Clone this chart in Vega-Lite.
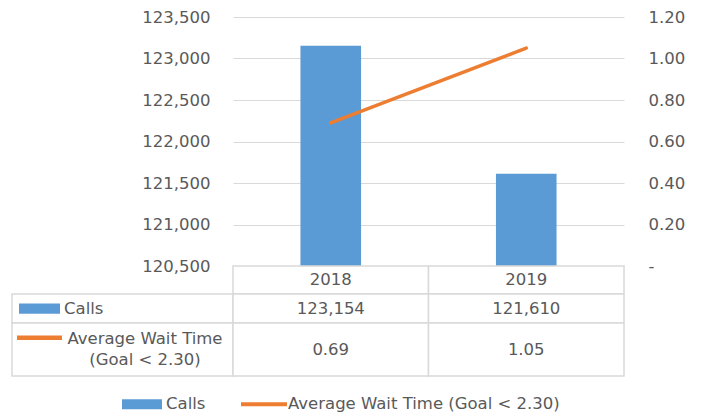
{
  "$schema": "https://vega.github.io/schema/vega-lite/v6.json",
  "padding": {"left": 11, "top": 9, "right": 0, "bottom": 0},
  "bounds": "flush",
  "spacing": 0,
  "columns": 2,
  "datasets": {
    "main": [
      {"year": "2018", "calls": 123154, "wait": 0.69},
      {"year": "2019", "calls": 121610, "wait": 1.05}
    ],
    "series": [
      {"series": "Calls"},
      {"series": "Average Wait Time (Goal < 2.30)"}
    ]
  },
  "config": {
    "view": {"stroke": null},
    "font": "DejaVu Sans",
    "text": {"fontSize": 16.5, "color": "#595959"}
  },
  "concat": [
    {
      "width": 221, "height": 249,
      "data": {"values": []},
      "mark": "text",
      "encoding": {}
    },
    {
      "width": 391, "height": 249,
      "layer": [
        {
          "data": {"name": "main"},
          "mark": {"type": "bar", "color": "#5b9bd5", "width": {"band": 0.31}},
          "encoding": {
            "x": {"field": "year", "type": "nominal", "axis": null, "scale": {"paddingInner": 0, "paddingOuter": 0}},
            "y": {
              "field": "calls", "type": "quantitative",
              "scale": {"domain": [120500, 123500], "zero": false, "nice": false},
              "axis": {
                "orient": "left", "title": null,
                "values": [120500, 121000, 121500, 122000, 122500, 123000, 123500],
                "format": ",d", "grid": true, "gridColor": "#d9d9d9", "gridWidth": 1,
                "domain": false, "ticks": false, "labelPadding": 23,
                "labelFontSize": 16.5, "labelColor": "#595959", "labelFont": "DejaVu Sans"
              }
            },
            "y2": {"datum": 120500}
          }
        },
        {
          "data": {"name": "main"},
          "mark": {"type": "line", "color": "#ed7d31", "strokeWidth": 3.5, "strokeCap": "round"},
          "encoding": {
            "x": {"field": "year", "type": "nominal", "axis": null, "scale": {"paddingInner": 0, "paddingOuter": 0}},
            "y": {
              "field": "wait", "type": "quantitative",
              "scale": {"domain": [0, 1.2], "nice": false},
              "axis": {
                "orient": "right", "title": null,
                "values": [0, 0.2, 0.4, 0.6, 0.8, 1.0, 1.2],
                "labelExpr": "datum.value == 0 ? ' -' : format(datum.value, '.2f')",
                "grid": false, "domain": false, "ticks": false, "labelPadding": 24,
                "labelFontSize": 16.5, "labelColor": "#595959", "labelFont": "DejaVu Sans"
              }
            }
          }
        },
        {
          "data": {"name": "series"},
          "mark": {"type": "point", "filled": true, "opacity": 0},
          "encoding": {
            "color": {
              "field": "series", "type": "nominal",
              "scale": {"domain": ["Calls", "Average Wait Time (Goal < 2.30)"], "range": ["#5b9bd5", "#ed7d31"]},
              "legend": {
                "orient": "none", "legendX": 110, "legendY": 367, "direction": "horizontal",
                "title": null, "labelFontSize": 16.5, "labelColor": "#595959", "labelFont": "DejaVu Sans",
                "symbolSize": 1600, "symbolOpacity": 1, "symbolStrokeWidth": 0,
                "columnPadding": 35, "labelOffset": 4, "padding": 0, "labelLimit": 400
              }
            },
            "shape": {
              "field": "series", "type": "nominal",
              "scale": {"domain": ["Calls", "Average Wait Time (Goal < 2.30)"], "range": ["M-1,-0.25H1V0.25H-1Z", "M-1.15,-0.1H1.15V0.1H-1.15Z"]},
              "legend": {
                "orient": "none", "legendX": 110, "legendY": 367, "direction": "horizontal",
                "title": null, "labelFontSize": 16.5, "labelColor": "#595959", "labelFont": "DejaVu Sans",
                "symbolSize": 1600, "symbolOpacity": 1, "symbolStrokeWidth": 0,
                "columnPadding": 35, "labelOffset": 4, "padding": 0, "labelLimit": 400
              }
            }
          }
        }
      ],
      "resolve": {"scale": {"y": "independent"}}
    },
    {
      "width": 221, "height": 28,
      "data": {"values": []},
      "mark": "text",
      "encoding": {}
    },
    {
      "width": 391, "height": 28,
      "data": {"name": "main"},
      "encoding": {"x": {"field": "year", "type": "nominal", "axis": null, "scale": {"paddingInner": 0, "paddingOuter": 0}}},
      "layer": [
        {"mark": {"type": "rect", "fill": "white", "stroke": "#d9d9d9", "strokeWidth": 1.5}},
        {"mark": {"type": "text"}, "encoding": {"text": {"field": "year", "type": "nominal"}}}
      ]
    },
    {
      "width": 221, "height": 29,
      "data": {"values": [{"series": "Calls"}]},
      "layer": [
        {"mark": {"type": "rect", "fill": "white", "stroke": "#d9d9d9", "strokeWidth": 1.5}, "encoding": {}},
        {"mark": {"type": "point", "shape": "M-1,-0.25H1V0.25H-1Z", "size": 1681, "filled": true, "color": "#5b9bd5", "opacity": 1, "xOffset": -83}, "encoding": {}},
        {"mark": {"type": "text", "align": "left", "dx": -58.5}, "encoding": {"text": {"field": "series", "type": "nominal"}}}
      ]
    },
    {
      "width": 391, "height": 29,
      "data": {"name": "main"},
      "encoding": {"x": {"field": "year", "type": "nominal", "axis": null, "scale": {"paddingInner": 0, "paddingOuter": 0}}},
      "layer": [
        {"mark": {"type": "rect", "fill": "white", "stroke": "#d9d9d9", "strokeWidth": 1.5}},
        {"mark": {"type": "text"}, "encoding": {"text": {"field": "calls", "type": "quantitative", "format": ",d"}}}
      ]
    },
    {
      "width": 221, "height": 53,
      "data": {"values": [{"series": "Average Wait Time\n(Goal < 2.30)"}]},
      "layer": [
        {"mark": {"type": "rect", "fill": "white", "stroke": "#d9d9d9", "strokeWidth": 1.5}, "encoding": {}},
        {"mark": {"type": "point", "shape": "M-1,-0.1H1V0.1H-1Z", "size": 2025, "filled": true, "color": "#ed7d31", "opacity": 1, "xOffset": -83, "yOffset": -11.8}, "encoding": {}},
        {"mark": {"type": "text", "align": "center", "dx": 22.5, "dy": -10.5, "lineBreak": "\n", "lineHeight": 21}, "encoding": {"text": {"field": "series", "type": "nominal"}}}
      ]
    },
    {
      "width": 391, "height": 53,
      "data": {"name": "main"},
      "encoding": {"x": {"field": "year", "type": "nominal", "axis": null, "scale": {"paddingInner": 0, "paddingOuter": 0}}},
      "layer": [
        {"mark": {"type": "rect", "fill": "white", "stroke": "#d9d9d9", "strokeWidth": 1.5}},
        {"mark": {"type": "text"}, "encoding": {"text": {"field": "wait", "type": "quantitative", "format": ".2f"}}}
      ]
    }
  ]
}
